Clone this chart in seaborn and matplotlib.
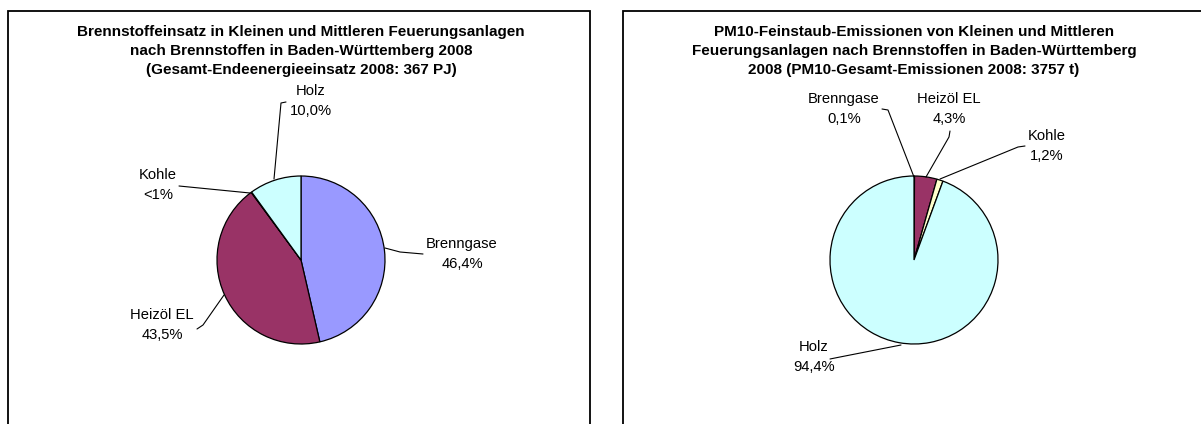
import matplotlib.pyplot as plt
import seaborn as sns
from matplotlib.patches import Rectangle

sns.set_theme(style="white")
plt.rcParams["font.family"] = ["Liberation Sans", "DejaVu Sans"]
plt.rcParams["text.color"] = "black"

# Data
fuels_left = ["Brenngase", "Heizöl EL", "Kohle", "Holz"]
share_left = [46.4, 43.5, 0.1, 10.0]
labels_left = ["46,4%", "43,5%", "<1%", "10,0%"]

fuels_right = ["Brenngase", "Heizöl EL", "Kohle", "Holz"]
share_right = [0.1, 4.3, 1.2, 94.4]
labels_right = ["0,1%", "4,3%", "1,2%", "94,4%"]

colors = {"Brenngase": "#9999FF", "Heizöl EL": "#993366",
          "Kohle": "#FFFFCC", "Holz": "#CCFFFF"}

title_left = ("Brennstoffeinsatz in Kleinen und Mittleren Feuerungsanlagen\n"
              "nach Brennstoffen in Baden-Württemberg 2008\n"
              "(Gesamt-Endeenergieeinsatz 2008: 367 PJ)")
title_right = ("PM10-Feinstaub-Emissionen von Kleinen und Mittleren\n"
               "Feuerungsanlagen nach Brennstoffen in Baden-Württemberg\n"
               "2008 (PM10-Gesamt-Emissionen 2008: 3757 t)")

W, H = 1201, 424
fig = plt.figure(figsize=(W / 100, H / 100), dpi=100)
ax = fig.add_axes([0, 0, 1, 1])


def Y(y):
    # image pixel row -> data y
    return H - y


def draw_panel(x0, x1, cx, title, fuels, shares, pcts, label_pos, leaders):
    ax.add_patch(Rectangle((x0, -5), x1 - x0, Y(11) + 5, fill=False,
                           edgecolor="black", lw=1.3))
    ax.text(cx, Y(51), title, ha="center", va="center", fontsize=11,
            fontweight="bold", linespacing=1.43, color="black")
    ax.pie(shares, colors=[colors[f] for f in fuels], startangle=90,
           counterclock=False, center=(cx, Y(260)), radius=84,
           wedgeprops={"edgecolor": "black", "linewidth": 0.9}, frame=True)
    for f, p, (lx, ly), pts in zip(fuels, pcts, label_pos, leaders):
        ax.text(lx, Y(ly), f + "\n" + p, ha="center", va="center",
                fontsize=10.6, linespacing=1.53, color="black")
        ax.plot([q[0] for q in pts], [Y(q[1]) for q in pts], color="black", lw=0.8)


draw_panel(8, 590, 301, title_left, fuels_left, share_left, labels_left,
           [(462, 254), (162, 325), (158, 185), (311, 101)],
           [[(385, 248), (400, 252), (423, 254)],
            [(224, 295), (203, 325), (197, 329)],
            [(250, 193), (179, 186)],
            [(274, 179), (281, 103), (286, 102)]])

draw_panel(623, 1210, 914, title_right, fuels_right, share_right, labels_right,
           [(844, 109), (949, 109), (1047, 146), (814, 357)],
           [[(914, 177), (888, 110), (882, 109)],
            [(926, 177), (949, 137), (950, 131)],
            [(940, 179), (1018, 147), (1025, 146)],
            [(901, 345), (840, 357), (830, 359)]])

ax.set_xlim(0, W)
ax.set_ylim(0, H)
ax.set_aspect("auto")
ax.axis("off")
fig.savefig("out.png", dpi=100, facecolor="white")
